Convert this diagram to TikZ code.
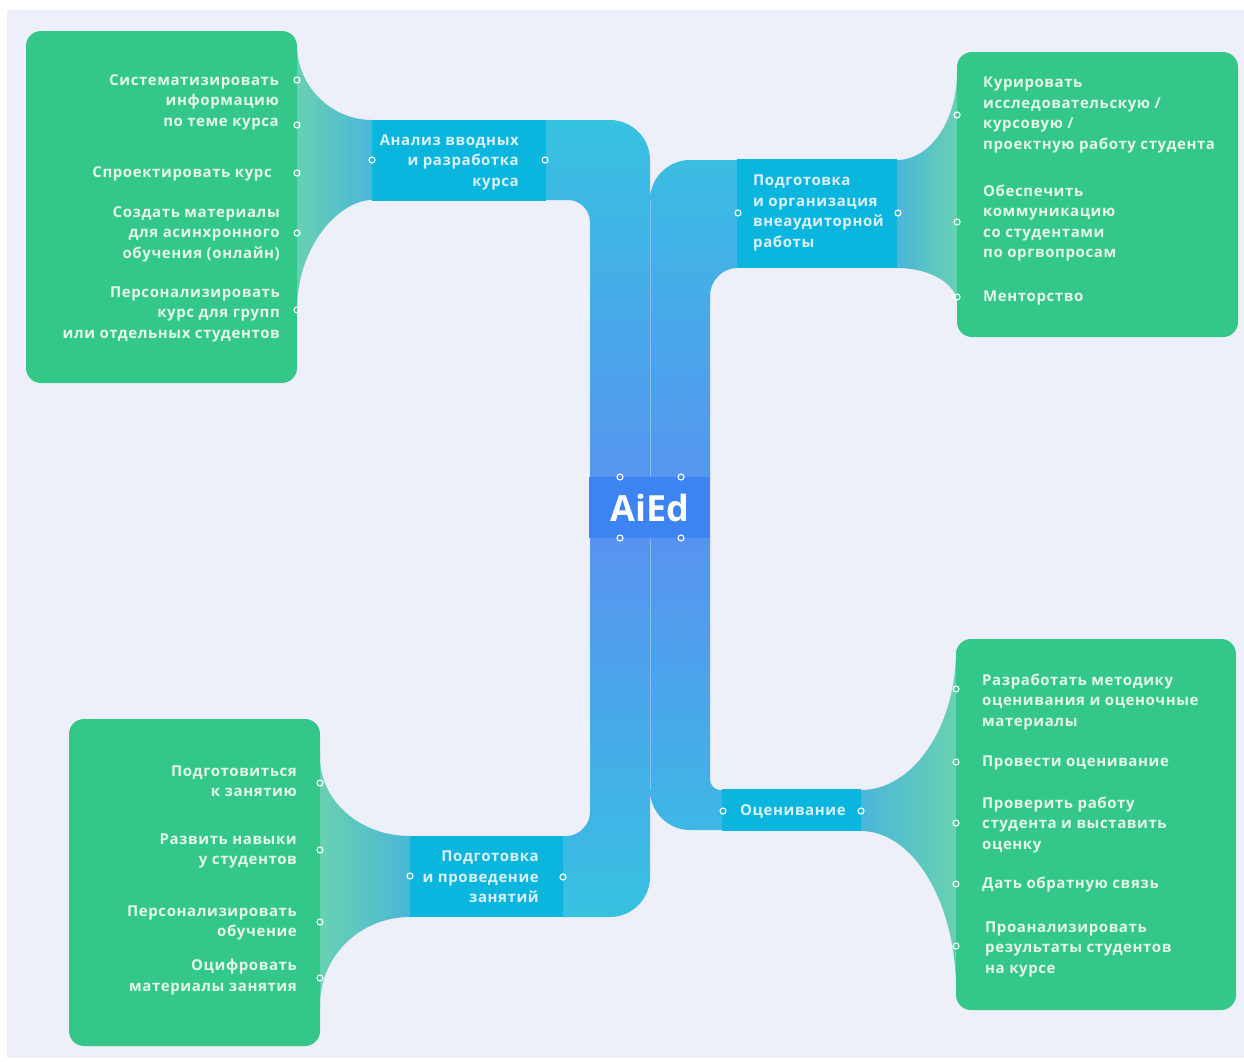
\documentclass[tikz,border=0pt]{standalone}
\usepackage{fontspec}
\setmainfont{Open Sans}
\newfontfamily\lblfam{Open Sans}[LetterSpace=4]
\definecolor{bgc}{HTML}{EEF0F9}
\definecolor{grn}{HTML}{34C78A}
\definecolor{cyb}{HTML}{0BB6DE}
\definecolor{trA}{HTML}{36C2E1}
\definecolor{trB}{HTML}{5A90F1}
\definecolor{aied}{HTML}{3B84F1}
\definecolor{fnA}{HTML}{4BB6D9}
\definecolor{fnB}{HTML}{6BD3AE}
\definecolor{gtext}{HTML}{E4F6EA}
\definecolor{ctext}{HTML}{DAF1F9}
\newcommand\lblfont{\lblfam\bfseries\fontsize{15}{20.5}\selectfont}
\tikzset{
  hdl/.style={circle, draw=white, line width=1.1pt, inner sep=0pt, minimum size=6pt},
  gbox/.style={fill=grn, rounded corners=15pt, inner sep=0pt, draw=none},
  cbox/.style={fill=cyb, inner sep=0pt, draw=none},
  rtxt/.style={font=\lblfont, inner sep=0pt, align=right, anchor=east},
  ltxt/.style={font=\lblfont, inner sep=0pt, align=left, anchor=west},
}
\begin{document}
\begin{tikzpicture}[x=1pt,y=-1pt]
\useasboundingbox (0,0) rectangle (1244,1061);
\fill[white] (0,0) rectangle (1244,1061);
\fill[bgc] (7,10) rectangle (1244,1058);

% funnels
\shade[left color=fnB, right color=fnA]
  (290,45) -- (297,45) .. controls (297,86) and (331,120) .. (372,120)
  -- (372,200) .. controls (340,200) and (297,245) .. (297,310) -- (290,310) -- cycle;
\shade[left color=fnA, right color=fnB]
  (897,160) .. controls (930,160) and (957,121) .. (957,72) -- (964,72)
  -- (964,303) -- (957,303) .. controls (957,284) and (930,268) .. (897,268) -- cycle;
\shade[left color=fnB, right color=fnA]
  (313,757) -- (320,757) .. controls (320,801) and (360,836) .. (410,836)
  -- (410,917) .. controls (360,917) and (320,956) .. (320,1005) -- (313,1005) -- cycle;
\shade[left color=fnA, right color=fnB]
  (861,790) .. controls (913,790) and (956,727) .. (956,650) -- (963,650)
  -- (963,990) -- (956,990) .. controls (956,902) and (913,831) .. (861,831) -- cycle;

% trunks
\shade[top color=trA, bottom color=trA, middle color=trB]
  (546,120) -- (610,120) .. controls (632,120) and (650,138) .. (650,160)
  -- (650,877) .. controls (650,899) and (632,917) .. (610,917)
  -- (563,917) -- (563,836) -- (566,836) .. controls (579,836) and (590,825) .. (590,812)
  -- (590,222) .. controls (590,210) and (580,200) .. (568,200) -- (546,200) -- cycle
  (737,160) -- (690,160) .. controls (668,160) and (650,178) .. (650,200)
  -- (650,790) .. controls (650,812) and (668,830) .. (690,830)
  -- (722,830) -- (722,790) -- (720,790) .. controls (715,790) and (710,785) .. (710,780)
  -- (710,296) .. controls (710,281) and (722,268) .. (737,268) -- cycle;
\draw[white, opacity=0.3, line width=0.8pt] (650,200) -- (650,790);

% green boxes
\node[gbox, minimum width=271pt, minimum height=352pt] (g1) at (161.5,207) {};
\node[gbox, minimum width=281pt, minimum height=285pt] (g2) at (1097.5,194.5) {};
\node[gbox, minimum width=251pt, minimum height=327pt] (g3) at (194.5,882.5) {};
\node[gbox, minimum width=280pt, minimum height=371pt] (g4) at (1096,824.5) {};

% cyan boxes
\node[cbox, minimum width=174pt, minimum height=81pt] (b1) at (459,160.5) {};
\node[cbox, minimum width=160pt, minimum height=109pt] (b2) at (817,213.5) {};
\node[cbox, minimum width=153pt, minimum height=81pt] (b3) at (486.5,876.5) {};
\node[cbox, minimum width=139pt, minimum height=42pt] (b4) at (791.5,810) {};
\node[fill=aied, inner sep=0pt, minimum width=121pt, minimum height=61pt] (hub) at (649.5,507.5) {};
\node[text=white, font=\bfseries\fontsize{36}{36}\selectfont, inner sep=0pt] (hubt) at (650,508) {AiEd};

% cyan box texts
\node[rtxt, text=ctext] (t1) at (519,162) {Анализ вводных\\и разработка\\курса};
\node[ltxt, text=ctext] (t2) at (753,213) {Подготовка\\и организация\\внеаудиторной\\работы};
\node[rtxt, text=ctext] (t3) at (539,877) {Подготовка\\и проведение\\занятий};
\node[ltxt, text=ctext] (t4) at (740,812) {Оценивание};

% green box texts
\node[rtxt, text=gtext] (a1) at (279,102) {Систематизировать\\информацию\\по теме курса};
\node[rtxt, text=gtext] (a2) at (272,174) {Спроектировать курс};
\node[rtxt, text=gtext] (a3) at (280,234) {Создать материалы\\для асинхронного\\обучения (онлайн)};
\node[rtxt, text=gtext] (a4) at (280,314) {Персонализировать\\курс для групп\\или отдельных студентов};

\node[ltxt, text=gtext] (c1) at (983,115) {Курировать\\исследовательскую /\\курсовую /\\проектную работу студента};
\node[ltxt, text=gtext] (c2) at (983,223) {Обеспечить\\коммуникацию\\со студентами\\по оргвопросам};
\node[ltxt, text=gtext] (c3) at (983,298) {Менторство};

\node[rtxt, text=gtext] (d1) at (297,781) {Подготовиться\\к занятию};
\node[rtxt, text=gtext] (d2) at (297,851) {Развить навыки\\у студентов};
\node[rtxt, text=gtext] (d3) at (297,923) {Персонализировать\\обучение};
\node[rtxt, text=gtext] (d4) at (297,977) {Оцифровать\\материалы занятия};

\node[ltxt, text=gtext] (e1) at (982,702) {Разработать методику\\оценивания и оценочные\\материалы};
\node[ltxt, text=gtext] (e2) at (982,763) {Провести оценивание};
\node[ltxt, text=gtext] (e3) at (982,825) {Проверить работу\\студента и выставить\\оценку};
\node[ltxt, text=gtext] (e4) at (982,885) {Дать обратную связь};
\node[ltxt, text=gtext] (e5) at (985,949) {Проанализировать\\результаты студентов\\на курсе};

% handles
\node[hdl] (h1) at (297,80) {};
\node[hdl] (h2) at (297,125) {};
\node[hdl] (h3) at (297,173) {};
\node[hdl] (h4) at (297,233) {};
\node[hdl] (h5) at (297,310) {};
\node[hdl] (h6) at (372,160) {};
\node[hdl] (h7) at (545,160) {};
\node[hdl] (h8) at (738,213) {};
\node[hdl] (h9) at (898,213) {};
\node[hdl] (h10) at (957,115) {};
\node[hdl] (h11) at (957,222) {};
\node[hdl] (h12) at (957,297) {};
\node[hdl] (h13) at (620,477) {};
\node[hdl] (h14) at (681,477) {};
\node[hdl] (h15) at (620,538) {};
\node[hdl] (h16) at (681,538) {};
\node[hdl] (h17) at (410,876) {};
\node[hdl] (h18) at (563,877) {};
\node[hdl] (h19) at (320,783) {};
\node[hdl] (h20) at (320,850) {};
\node[hdl] (h21) at (320,922) {};
\node[hdl] (h22) at (320,978) {};
\node[hdl] (h23) at (723,811) {};
\node[hdl] (h24) at (861,811) {};
\node[hdl] (h25) at (956,689) {};
\node[hdl] (h26) at (956,762) {};
\node[hdl] (h27) at (956,823) {};
\node[hdl] (h28) at (956,884) {};
\node[hdl] (h29) at (956,946) {};
\end{tikzpicture}
\end{document}
